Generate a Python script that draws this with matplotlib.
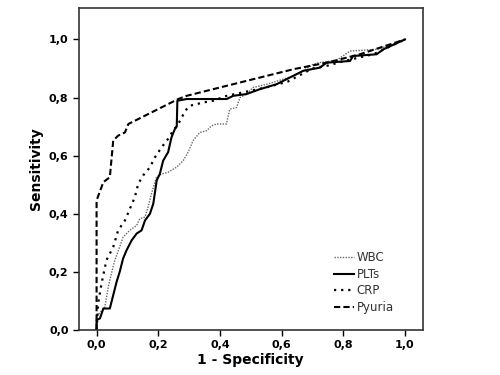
import matplotlib
matplotlib.use("Agg")
import matplotlib.pyplot as plt
from matplotlib.ticker import FuncFormatter

# ROC curve points (1 - specificity, sensitivity)
wbc_x = [0.0, 0.0, 0.027, 0.038, 0.048, 0.059, 0.075, 0.086, 0.108, 0.13, 0.14, 0.157,
         0.167, 0.178, 0.194, 0.211, 0.232, 0.259, 0.281, 0.297, 0.313, 0.335, 0.357,
         0.373, 0.389, 0.421, 0.432, 0.454, 0.465, 0.486, 0.508, 0.55, 0.595, 0.64,
         0.66, 0.703, 0.72, 0.778, 0.822, 0.908, 0.96, 1.0]
wbc_y = [0.0, 0.046, 0.08, 0.149, 0.194, 0.24, 0.286, 0.32, 0.343, 0.36, 0.383, 0.389,
         0.423, 0.469, 0.526, 0.537, 0.543, 0.56, 0.583, 0.612, 0.652, 0.68, 0.686,
         0.703, 0.709, 0.709, 0.76, 0.766, 0.8, 0.812, 0.835, 0.845, 0.86, 0.875,
         0.885, 0.915, 0.92, 0.928, 0.96, 0.966, 0.983, 1.0]

plt_x = [0.0, 0.0, 0.011, 0.022, 0.043, 0.054, 0.065, 0.075, 0.086, 0.097, 0.114, 0.13,
         0.146, 0.157, 0.173, 0.184, 0.195, 0.205, 0.216, 0.232, 0.243, 0.254, 0.26,
         0.262, 0.292, 0.422, 0.443, 0.486, 0.53, 0.584, 0.638, 0.67, 0.724, 0.746,
         0.822, 0.832, 0.908, 0.93, 1.0]
plt_y = [0.0, 0.034, 0.04, 0.074, 0.074, 0.12, 0.166, 0.2, 0.246, 0.274, 0.309, 0.332,
         0.343, 0.377, 0.4, 0.435, 0.515, 0.537, 0.583, 0.612, 0.663, 0.692, 0.7,
         0.789, 0.795, 0.795, 0.806, 0.812, 0.829, 0.846, 0.875, 0.892, 0.903, 0.92,
         0.926, 0.943, 0.949, 0.966, 1.0]

crp_x = [0.0, 0.005, 0.016, 0.032, 0.054, 0.07, 0.092, 0.108, 0.124, 0.135, 0.151,
         0.173, 0.189, 0.211, 0.232, 0.248, 0.265, 0.276, 0.292, 0.303, 0.346, 0.378,
         0.422, 0.476, 0.55, 0.62, 0.70, 0.746, 0.80, 0.90, 1.0]
crp_y = [0.0, 0.09, 0.16, 0.24, 0.286, 0.343, 0.377, 0.417, 0.457, 0.503, 0.532,
         0.56, 0.594, 0.629, 0.658, 0.686, 0.709, 0.732, 0.76, 0.772, 0.783, 0.789,
         0.806, 0.818, 0.835, 0.855, 0.9, 0.909, 0.925, 0.95, 1.0]

pyu_x = [0.0, 0.0, 0.022, 0.043, 0.054, 0.07, 0.092, 0.103, 0.265, 0.292, 0.42, 0.53,
         0.64, 0.746, 0.854, 1.0]
pyu_y = [0.0, 0.446, 0.509, 0.526, 0.652, 0.669, 0.68, 0.709, 0.795, 0.806, 0.84,
         0.869, 0.898, 0.92, 0.949, 1.0]

ticks = [0.0, 0.2, 0.4, 0.6, 0.8, 1.0]

fig = plt.figure(figsize=(5, 3.75), dpi=100)
ax = fig.add_axes([0.158, 0.12, 0.687, 0.86])

ax.plot(wbc_x, wbc_y, color='#666666', lw=1.0, ls=(0, (1, 1)), label='WBC')
ax.plot(plt_x, plt_y, color='black', lw=1.5, ls='-', label='PLTs')
ax.plot(crp_x, crp_y, color='black', lw=1.6, ls=(0, (1, 2.2)), label='CRP')
ax.plot(pyu_x, pyu_y, color='black', lw=1.5, ls=(0, (3, 1.5)), label='Pyuria')

ax.set_xlim(-0.057, 1.057)
ax.set_ylim(0, 1.11)
ax.set_xticks(ticks)
ax.set_yticks(ticks)
fmt = FuncFormatter(lambda v, p: f"{v:.1f}".replace('.', ','))
ax.xaxis.set_major_formatter(fmt)
ax.yaxis.set_major_formatter(fmt)
ax.tick_params(direction='out', length=4, width=1, labelsize=8)
for lab in ax.get_xticklabels() + ax.get_yticklabels():
    lab.set_fontweight('bold')
for s in ax.spines.values():
    s.set_linewidth(1.2)
    s.set_color('#333333')

ax.set_xlabel('1 - Specificity', fontsize=10, fontweight='bold', labelpad=2)
ax.set_ylabel('Sensitivity', fontsize=10, fontweight='bold', labelpad=4)

leg = ax.legend(loc='lower right', bbox_to_anchor=(0.93, 0.035), frameon=False,
                fontsize=8.5, handlelength=1.7, handletextpad=0.2, labelspacing=0.3,
                borderaxespad=0)
for t in leg.get_texts():
    t.set_color('#333333')

fig.savefig('out.png', dpi=100)
